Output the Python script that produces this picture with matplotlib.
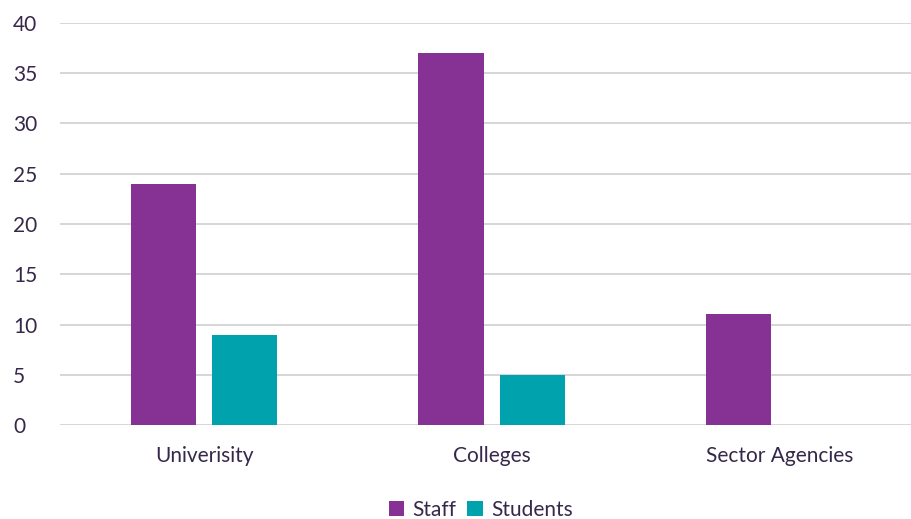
import matplotlib.pyplot as plt
import numpy as np

categories = ["Univerisity", "Colleges", "Sector Agencies"]
staff = [24, 37, 11]
students = [9, 5, 0]

plt.rcParams['font.family'] = ['Lato', 'DejaVu Sans']
txt = '#36284A'

fig = plt.figure(figsize=(9.12, 5.19), dpi=100)
ax = fig.add_axes([0.066, 0.181, 0.934, 0.775])

x = np.arange(len(categories))
w = 0.226
ax.bar(x - 0.142, staff, w, color='#863294', label='Staff', zorder=3)
ax.bar(x + 0.142, students, w, color='#00A3AD', label='Students', zorder=3)

ax.set_xlim(-0.5, 2.46)
ax.set_ylim(0, 40)
ax.set_yticks(range(0, 41, 5))
ax.set_xticks(x)
ax.set_xticklabels(categories)
ax.grid(axis='y', color='#D0D0D0', linewidth=1.2, zorder=0)
for s in ax.spines.values():
    s.set_visible(False)
ax.tick_params(length=0, labelsize=15, colors=txt)
ax.tick_params(axis='x', pad=15)
ax.tick_params(axis='y', pad=34)
for lbl in ax.get_yticklabels():
    lbl.set_horizontalalignment('left')

fig.legend(loc='lower center', bbox_to_anchor=(0.527, -0.038), ncol=2, frameon=False,
           fontsize=15, handlelength=0.75, handleheight=0.75, columnspacing=0.5,
           handletextpad=0.4, labelcolor=txt)

fig.savefig('out.png', dpi=100)
